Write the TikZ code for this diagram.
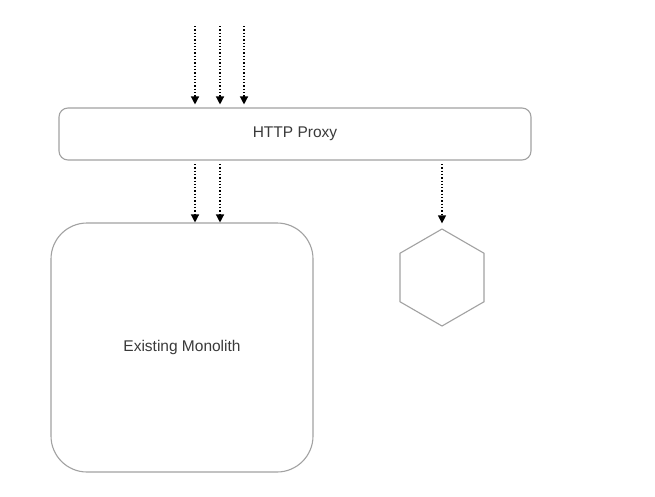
\documentclass[tikz,border=0pt]{standalone}
\usepackage{fontspec}
\setmainfont{Liberation Sans}
\usetikzlibrary{shapes.geometric,arrows.meta}
\definecolor{boxline}{HTML}{A2A2A2}
\definecolor{txt}{HTML}{3A3A3A}
\begin{document}
\begin{tikzpicture}[x=1pt,y=-1pt,
  boxstyle/.style={draw=boxline,line width=1.1pt,fill=white,inner sep=0pt,text=txt,font=\fontsize{15.5}{18}\selectfont},
  flow/.style={draw=black,line width=1.3pt,dotted,-{Triangle[width=8pt,length=8pt]}}]
\fill[white] (0,0) rectangle (655,496);
\useasboundingbox (0,0) rectangle (655,496);
\node[boxstyle,rounded corners=9pt,minimum width=472pt,minimum height=52pt] (proxy) at (295,134) {HTTP Proxy};
\node[boxstyle,rounded corners=36pt,minimum width=262pt,minimum height=249pt] (mono) at (182,347.5) {Existing Monolith};
\node[boxstyle,regular polygon,regular polygon sides=6,shape border rotate=90,minimum size=97pt] (hex) at (442,277.5) {};
\coordinate (s1) at (195,26);
\coordinate (s2) at (220,26);
\coordinate (s3) at (244,26);
\draw[flow] (s1) -- ([yshift=3pt]s1 |- proxy.north);
\draw[flow] (s2) -- ([yshift=3pt]s2 |- proxy.north);
\draw[flow] (s3) -- ([yshift=3pt]s3 |- proxy.north);
\coordinate (m1) at (195,164);
\coordinate (m2) at (220,164);
\draw[flow] (m1) -- (m1 |- mono.north);
\draw[flow] (m2) -- (m2 |- mono.north);
\coordinate (h1) at (442,164);
\draw[flow] (h1) -- ([yshift=5pt]h1 |- hex.north);
\end{tikzpicture}
\end{document}
